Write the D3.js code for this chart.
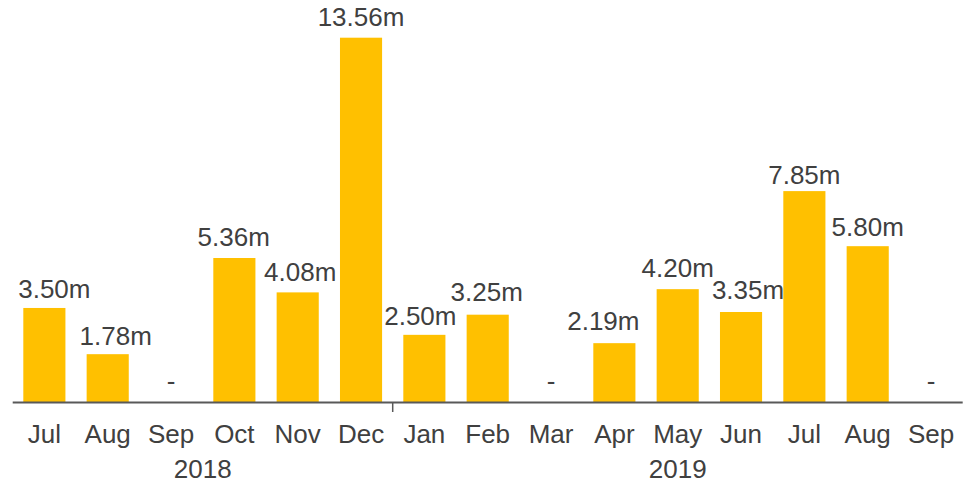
<!DOCTYPE html>
<html>
<head>
<meta charset="utf-8">
<script src="https://cdn.jsdelivr.net/npm/d3@7"></script>
<style>
  body { margin: 0; background: #fff; }
  svg text { font-family: "Liberation Sans", Arial, Helvetica, sans-serif; fill: #404040; }
</style>
</head>
<body>
<svg id="svg" width="963" height="485"></svg>
<script>
const months = ['Jul', 'Aug', 'Sep', 'Oct', 'Nov', 'Dec', 'Jan', 'Feb', 'Mar', 'Apr', 'May', 'Jun', 'Jul', 'Aug', 'Sep']
const years = ['2018', '2018', '2018', '2018', '2018', '2018', '2019', '2019', '2019', '2019', '2019', '2019', '2019', '2019', '2019']
const values = [3.50, 1.78, null, 5.36, 4.08, 13.56, 2.50, 3.25, null, 2.19, 4.20, 3.35, 7.85, 5.80, null]

const width = 963
const height = 485
const baseline = 402

const data = months.map((m, i) => ({ key: i, month: m, year: years[i], value: values[i] }))

const x = d3.scaleBand()
  .domain(data.map(d => d.key))
  .range([12.7, 962.7])
  .paddingInner(0.335)
  .paddingOuter(0.1675)

const y = d3.scaleLinear()
  .domain([0, 13.56])
  .range([baseline, 37.7])

const fmt = d => d3.format('.2f')(d) + 'm'

// label placement tweaks [dx, gap above bar] so crowded labels don't collide
const nudge = {
  0: [10, 9.7], 1: [8, 9.3], 3: [-0.7, 11.6], 4: [2.5, 11.6], 5: [0, 12],
  6: [-4, 10.3], 7: [-1, 14], 9: [-11, 12.7], 10: [0, 11.7], 11: [7, 13.4],
  12: [0, 7], 13: [0, 9.7]
}

const svg = d3.select('#svg')

svg.selectAll('rect.bar')
  .data(data.filter(d => d.value != null))
  .join('rect')
  .attr('class', 'bar')
  .attr('x', d => x(d.key))
  .attr('y', d => y(d.value))
  .attr('width', x.bandwidth())
  .attr('height', d => y(0) - y(d.value))
  .attr('fill', '#FFC000')

svg.selectAll('text.val')
  .data(data)
  .join('text')
  .attr('class', 'val')
  .attr('x', d => x(d.key) + x.bandwidth() / 2 + (nudge[d.key] ? nudge[d.key][0] : 0))
  .attr('y', d => d.value == null ? y(0) - 12 : y(d.value) - (nudge[d.key] ? nudge[d.key][1] : 10))
  .attr('text-anchor', 'middle')
  .style('font-size', '26px')
  .text(d => d.value == null ? '-' : fmt(d.value))

// axis line
svg.append('line')
  .attr('x1', x.range()[0])
  .attr('x2', x.range()[1])
  .attr('y1', baseline + 0.5)
  .attr('y2', baseline + 0.5)
  .attr('stroke', '#595959')
  .attr('stroke-width', 2)

svg.selectAll('text.month')
  .data(data)
  .join('text')
  .attr('class', 'month')
  .attr('x', d => x(d.key) + x.bandwidth() / 2)
  .attr('y', 443)
  .attr('text-anchor', 'middle')
  .style('font-size', '26px')
  .text(d => d.month)

// year groups
const groups = d3.groups(data, d => d.year)
groups.forEach(([yr, items], gi) => {
  const first = items[0].key
  const last = items[items.length - 1].key
  const cx = (x(first) + x(last) + x.bandwidth()) / 2
  svg.append('text')
    .attr('x', cx)
    .attr('y', 478)
    .attr('text-anchor', 'middle')
    .style('font-size', '26px')
    .text(yr)
  if (gi > 0) {
    const bx = x(first) - x.step() * x.paddingInner() / 2
    svg.append('line')
      .attr('x1', bx).attr('x2', bx)
      .attr('y1', baseline).attr('y2', baseline + 10)
      .attr('stroke', '#595959')
      .attr('stroke-width', 1.5)
  }
})
</script>
</body>
</html>
